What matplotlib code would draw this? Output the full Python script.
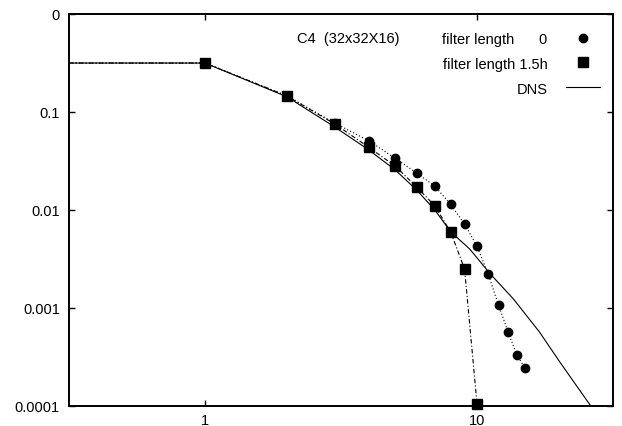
import numpy as np
import matplotlib
matplotlib.use('Agg')
import matplotlib.pyplot as plt
from matplotlib.lines import Line2D

plt.rcParams['font.family'] = ['Liberation Sans', 'DejaVu Sans']
plt.rcParams['font.size'] = 10.5

# data (first entry is the plateau at the left edge)
k_filter0 = [0.316, 1, 2, 3, 4, 5, 6, 7, 8, 9, 10, 11, 12, 13, 14, 15]
e_filter0 = [0.316, 0.316, 0.146, 0.077, 0.0509, 0.0337, 0.0239, 0.0175, 0.0114,
             0.0072, 0.00426, 0.00221, 0.00107, 0.000573, 0.000333, 0.000244]

k_filter15 = [0.316, 1, 2, 3, 4, 5, 6, 7, 8, 9, 10]
e_filter15 = [0.316, 0.316, 0.146, 0.0755, 0.0436, 0.0281, 0.0172, 0.011,
              0.00597, 0.0025, 0.000106]

k_dns = [0.316, 1, 2, 3, 4, 5, 6, 7, 8, 9.4, 11.2, 13.6, 17, 20.2, 26.2]
e_dns = [0.316, 0.316, 0.143, 0.0703, 0.041, 0.0257, 0.016, 0.0100, 0.006,
         0.0040, 0.00222, 0.00124, 0.000565, 0.000279, 0.0001]

yticks = [1e-4, 1e-3, 1e-2, 1e-1, 1]
ytick_labels = ['0.0001', '0.001', '0.01', '0.1', '0']
xticks = [1, 10]
xtick_labels = ['1', '10']

fig = plt.figure(figsize=(6.22, 4.27), dpi=100)
ax = fig.add_axes([69 / 622, 20 / 427, 544 / 622, 392 / 427])

ax.plot(k_dns, e_dns, '-', color='black', lw=0.8)
ax.plot(k_filter0, e_filter0, color='black', lw=0.8, ls=(0, (1, 2)),
        marker='o', ms=6, markevery=slice(1, None), clip_on=False)
ax.plot(k_filter15, e_filter15, color='black', lw=0.8, ls=(0, (4, 2, 1, 2)),
        marker='s', ms=6.5, markevery=slice(1, None), clip_on=False)

ax.set_xscale('log')
ax.set_yscale('log')
ax.set_xlim(10 ** -0.5, 10 ** 1.5)
ax.set_ylim(1e-4, 1)
ax.set_xticks(xticks)
ax.set_xticklabels(xtick_labels)
ax.set_yticks(yticks)
ax.set_yticklabels(ytick_labels)
ax.minorticks_off()
ax.tick_params(direction='in', length=4, width=1, top=True, right=True)
ax.tick_params(axis='y', pad=6.5)
ax.tick_params(axis='x', pad=5)
for s in ax.spines.values():
    s.set_linewidth(1.4)

handles = [Line2D([], [], color='black', marker='o', ms=6, ls='none'),
           Line2D([], [], color='black', marker='s', ms=6.5, ls='none'),
           Line2D([], [], color='black', lw=0.8)]
labels = ['filter length      0', 'filter length 1.5h', 'DNS']
ax.legend(handles, labels, loc='upper right', bbox_to_anchor=(0.976, 0.955),
          frameon=False, markerfirst=False, handlelength=2.3, handletextpad=1.3,
          labelspacing=0.75, borderaxespad=0, borderpad=0)
ax.text(0.42, 0.939, 'C4  (32x32X16)', transform=ax.transAxes,
        ha='left', va='center')

fig.savefig('out.png', dpi=100)
